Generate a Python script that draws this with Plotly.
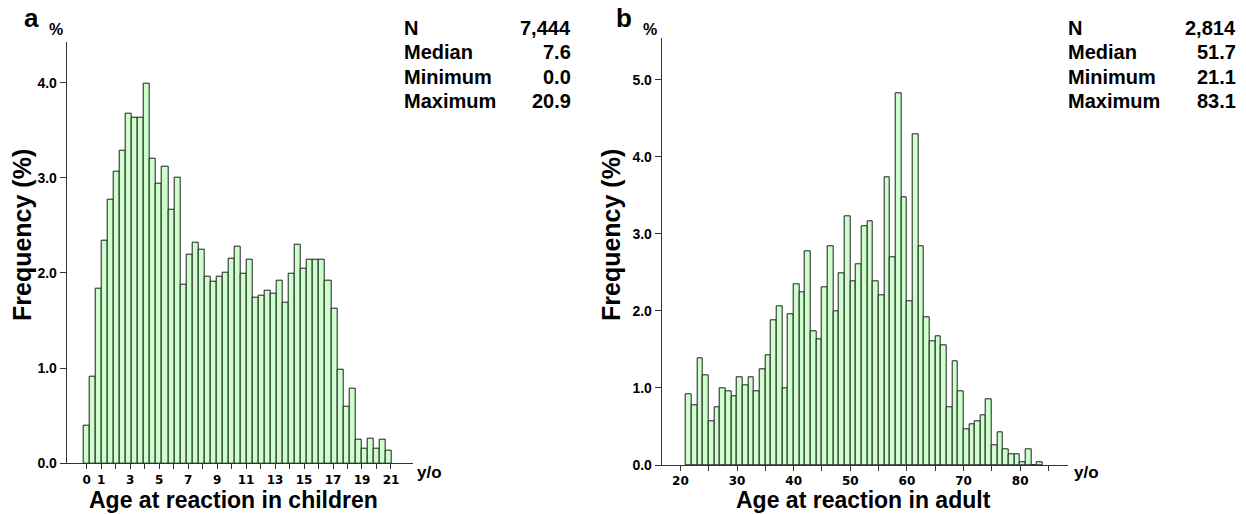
import plotly.graph_objects as go

# ---------------- data ----------------
# Panel a: children, 5-month bins (bin start in months)
children_bin_months = list(range(0, 255, 5))
children_freq = [0.40, 0.91, 1.83, 2.34, 2.77, 3.06, 3.28, 3.67, 3.63, 3.63,
                 3.99, 3.20, 2.94, 3.12, 2.67, 3.00, 1.88, 2.19, 2.32, 2.24,
                 1.96, 1.91, 1.96, 2.00, 2.15, 2.28, 1.99, 2.14, 1.74, 1.76,
                 1.81, 1.78, 1.92, 1.69, 1.99, 2.30, 2.04, 2.14, 2.14, 2.14,
                 1.92, 1.62, 0.98, 0.59, 0.78, 0.25, 0.15, 0.26, 0.15, 0.25,
                 0.13]

# Panel b: adults, 1-year bins (bin start in years)
adult_ages = list(range(21, 84))
adult_freq = [0.92, 0.78, 1.39, 1.17, 0.57, 0.75, 1.00, 0.96, 0.89, 1.14,
              1.03, 1.14, 0.96, 1.24, 1.42, 1.88, 2.06, 1.00, 1.96, 2.34,
              2.24, 2.77, 1.74, 1.63, 2.31, 2.84, 1.99, 2.49, 3.23, 2.38,
              2.60, 3.10, 3.16, 2.38, 2.20, 3.73, 2.70, 4.83, 3.48, 2.13,
              4.30, 2.84, 1.92, 1.60, 1.67, 1.56, 0.75, 1.35, 0.96, 0.46,
              0.53, 0.57, 0.64, 0.85, 0.25, 0.43, 0.21, 0.14, 0.14, 0.03,
              0.21, 0.00, 0.03]

stats_labels = ["N", "Median", "Minimum", "Maximum"]
children_stats = ["7,444", "7.6", "0.0", "20.9"]
adult_stats = ["2,814", "51.7", "21.1", "83.1"]

children_tick_vals = list(range(0, 22))
children_tick_text = ["0", "1", "", "3", "", "5", "", "7", "", "9", "", "11", "",
                      "13", "", "15", "", "17", "", "19", "", "21"]
adult_tick_vals = list(range(20, 90, 5))
adult_tick_text = ["20", "", "30", "", "40", "", "50", "", "60", "", "70", "", "80", ""]
y_ticks_a = [0, 1, 2, 3, 4]
y_ticks_b = [0, 1, 2, 3, 4, 5]

# ---------------- figure ----------------
W, H = 1246, 514
FIG_H = 522
FILL = "#ccffcc"
EDGE = "#1e1e1e"
AXC = "#333333"
SANS = "Liberation Sans, Arial, Helvetica, sans-serif"
WIDE = "DejaVu Sans, Verdana, sans-serif"

fig = go.Figure()

child_width = 5 / 12
fig.add_trace(go.Bar(
    x=[m / 12 for m in children_bin_months], y=children_freq, width=child_width,
    marker=dict(color=FILL, line=dict(color=EDGE, width=1)),
    xaxis="x", yaxis="y", hoverinfo="x+y"))

fig.add_trace(go.Bar(
    x=[a + 0.5 for a in adult_ages], y=adult_freq, width=1,
    marker=dict(color=FILL, line=dict(color=EDGE, width=1)),
    xaxis="x2", yaxis="y2", hoverinfo="x+y"))


def px(x):
    return x / W


def py(y):
    return 1 - y / H


common_axis = dict(showgrid=False, zeroline=False, showline=True, linecolor=AXC,
                   linewidth=1, ticks="outside", tickcolor=AXC, tickwidth=1)

fig.update_layout(
    width=W, height=FIG_H, autosize=False, margin=dict(l=0, r=0, t=0, b=0),
    paper_bgcolor="white", plot_bgcolor="white", showlegend=False,
    bargap=0,
    xaxis=dict(domain=[px(66.7), px(412.7)], anchor="y", range=[-1.38, 22.5],
               tickvals=children_tick_vals, ticktext=children_tick_text, ticklen=5,
               ticklabelstandoff=0,
               tickfont=dict(family=WIDE, size=12, color="black", weight="bold"),
               **common_axis),
    yaxis=dict(domain=[py(463.3), py(41.7)], anchor="x", range=[0, 4.43],
               tickvals=y_ticks_a, tickformat=".1f", ticklen=6,
               tickfont=dict(family=SANS, size=14, color="black", weight="bold"),
               **common_axis),
    xaxis2=dict(domain=[px(661.7), px(1068.3)], anchor="y2", range=[16.7, 88.5],
                tickvals=adult_tick_vals, ticktext=adult_tick_text, ticklen=5,
                ticklabelstandoff=0,
                tickfont=dict(family=WIDE, size=12, color="black", weight="bold"),
                **common_axis),
    yaxis2=dict(domain=[py(465), py(38.3)], anchor="x2", range=[0, 5.54],
                tickvals=y_ticks_b, tickformat=".1f", ticklen=6,
                tickfont=dict(family=SANS, size=14, color="black", weight="bold"),
                **common_axis),
)

ann = []


def text(x, y, s, size, xanchor="center", yanchor="middle", angle=0, family=SANS):
    ann.append(dict(x=px(x), y=py(y), xref="paper", yref="paper", text=s,
                    showarrow=False, xanchor=xanchor, yanchor=yanchor,
                    textangle=angle,
                    font=dict(family=family, size=size, color="black", weight="bold")))


# panel letters and % labels
text(31, 18, "a", 26)
text(56, 29, "%", 16)
text(624, 18, "b", 26)
text(650, 29, "%", 16)

# axis titles
text(22, 235, "Frequency (%)", 25, angle=-90)
text(611, 235, "Frequency (%)", 25, angle=-90)
text(233, 500, "Age at reaction in children", 23)
text(863, 500, "Age at reaction in adult", 23)
text(429, 472, "y/o", 17)
text(1086, 472, "y/o", 17)

# stats blocks
rows_y = [28, 52.5, 77, 101.5]
for lab, v1, v2, yy in zip(stats_labels, children_stats, adult_stats, rows_y):
    text(402, yy, lab, 20, xanchor="left")
    text(573, yy, v1, 20, xanchor="right")
    text(1066, yy, lab, 20, xanchor="left")
    text(1238, yy, v2, 20, xanchor="right")

fig.update_layout(annotations=ann)
fig.write_html("out.html",
               config={"displayModeBar": False, "responsive": False},
               post_script="document.body.style.margin='0px';"
                           "document.body.style.overflow='hidden';")
